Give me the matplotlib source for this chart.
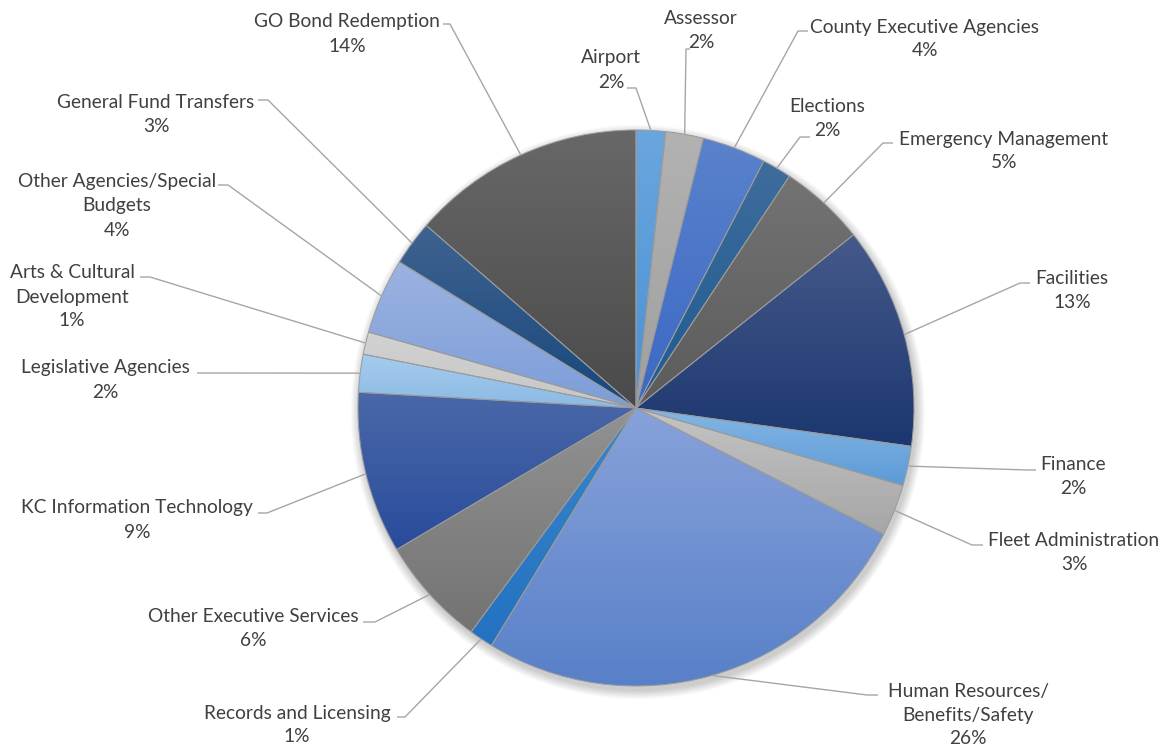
import numpy as np
import matplotlib
matplotlib.use('Agg')
import matplotlib.pyplot as plt
from matplotlib.colors import LinearSegmentedColormap
from matplotlib.patches import Circle

## Données du graphique (sens horaire depuis le haut)
noms = ['Airport', 'Assessor', 'County Executive Agencies', 'Elections',
        'Emergency Management', 'Facilities', 'Finance', 'Fleet Administration',
        'Human Resources/\nBenefits/Safety', 'Records and Licensing',
        'Other Executive Services', 'KC Information Technology',
        'Legislative Agencies', 'Arts & Cultural\nDevelopment',
        'Other Agencies/Special\nBudgets', 'General Fund Transfers',
        'GO Bond Redemption']
parts = [1.7, 2.2, 3.7, 1.7, 5.0, 12.9, 2.3, 3.0, 26.2, 1.4,
         6.4, 9.4, 2.2, 1.3, 4.4, 2.6, 13.6]

# dégradés (haut, bas) de chaque secteur
haut = ['#6aa6de', '#b2b2b2', '#5a82cc', '#3e6d9c', '#737373', '#46598a',
        '#84b6e6', '#c4c4c4', '#88a2da', '#3a86cc', '#929292', '#4a68a8',
        '#a6ccee', '#d2d2d2', '#9bb3e2', '#3f6390', '#686868']
bas = ['#4a91d6', '#a0a0a0', '#3a68c4', '#1e5a92', '#5b5b5b', '#1b376f',
       '#5c9bd6', '#a6a6a6', '#5880c8', '#2372c0', '#737373', '#294b9c',
       '#8bbae4', '#c6c6c6', '#7d9dd8', '#17477c', '#4a4a4a']

## Mise en page (pixels de l'image)
W, H = 1166, 752
cx, cy, R = 636, 408, 278
# centre du bloc de texte
pos_txt = [(611, 70), (701, 30), (925, 39), (827, 119), (1004, 151),
           (1072, 290), (1073, 476), (1074, 552), (968, 715), (297, 725),
           (253, 628), (137, 520), (105, 380), (72, 297), (117, 206),
           (156, 114), (347, 34)]
# coude de la ligne de rappel (x, y) et fin du petit trait horizontal
coude = [(636, 88, 627), (686, 49, 690), (798, 31, 808), (800, 137, 810),
         (883, 143, 893), (1020, 283, 1030), (1027, 470, 1036),
         (972, 545, 983), (867, 695, 878), (405, 717, 397), (375, 622, 363),
         (267, 513, 258), (205, 373, 197), (150, 277, 140), (228, 185, 218),
         (268, 100, 258), (450, 24, 443)]

gris_txt = '#404040'
gris_ligne = '#a6a6a6'

fig = plt.figure(figsize=(W / 100, H / 100), dpi=100)
ax = fig.add_axes([0, 0, 1, 1])

# ombre portée douce
for k in range(10):
    ax.add_patch(Circle((cx + 2, cy + 4), R + 1 + k * 0.9, color='black',
                        alpha=0.018, lw=0, zorder=0.5))

wedges, _ = ax.pie(parts, colors=bas, startangle=270, counterclock=True,
                   center=(cx, cy), radius=R,
                   wedgeprops=dict(edgecolor='#9a9a9a', linewidth=0.7,
                                   zorder=3))

# remplissage en dégradé vertical de chaque secteur
grad = np.linspace(0, 1, 256)[:, None]
for w, c1, c2 in zip(wedges, haut, bas):
    bb = w.get_path().get_extents()
    cmap = LinearSegmentedColormap.from_list('g', [c1, c2])
    im = ax.imshow(grad, cmap=cmap, extent=(bb.x0, bb.x1, bb.y1, bb.y0),
                   aspect='auto', interpolation='bilinear', zorder=2)
    im.set_clip_path(w)
    w.set_facecolor('none')

# étiquettes et lignes de rappel
total = sum(parts)
cumul = np.cumsum([0] + parts)
for i, nom in enumerate(noms):
    th = np.radians(270 + 360 * (cumul[i] + parts[i] / 2) / total)
    x0, y0 = cx + R * np.cos(th), cy + R * np.sin(th)
    xc, yc, xs = coude[i]
    ax.plot([x0, xc, xs], [y0, yc, yc], color=gris_ligne, lw=1.0, zorder=4,
            solid_capstyle='butt')
    ax.text(pos_txt[i][0], pos_txt[i][1], nom + '\n' + f'{parts[i]:.0f}%',
            ha='center', va='center', fontsize=13.8, family='Lato',
            color=gris_txt, linespacing=1.5, zorder=5)

ax.set_xlim(0, W)
ax.set_ylim(H, 0)
ax.set_aspect('equal')
ax.axis('off')

plt.savefig('out.png', dpi=100)
